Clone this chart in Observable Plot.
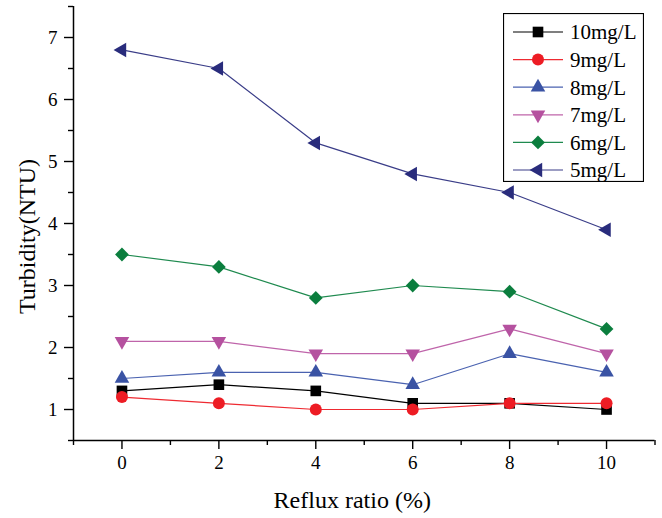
<!DOCTYPE html>
<html><head><meta charset="utf-8">
<script src="https://cdn.jsdelivr.net/npm/d3@7"></script>
<script src="https://cdn.jsdelivr.net/npm/@observablehq/plot@0.6"></script>
<style>
body{margin:0;background:#fff;}
#wrap{position:relative;width:662px;height:518px;font-family:Liberation Serif, serif;}
#legend{position:absolute;left:503px;top:13px;}
</style></head><body><div id="wrap"></div>
<script>
const refluxRatio = [0, 2, 4, 6, 8, 10];
const seriesNames = ["10mg/L", "9mg/L", "8mg/L", "7mg/L", "6mg/L", "5mg/L"];
const turb10 = [1.3, 1.4, 1.3, 1.1, 1.1, 1.0];
const turb9  = [1.2, 1.1, 1.0, 1.0, 1.1, 1.1];
const turb8  = [1.5, 1.6, 1.6, 1.4, 1.9, 1.6];
const turb7  = [2.1, 2.1, 1.9, 1.9, 2.3, 1.9];
const turb6  = [3.5, 3.3, 2.8, 3.0, 2.9, 2.3];
const turb5  = [6.8, 6.5, 5.3, 4.8, 4.5, 3.9];
const xMajorTicks = [0, 2, 4, 6, 8, 10];
const xMinorTicks = [-1, 1, 3, 5, 7, 9, 11];
const yMajorTicks = [1, 2, 3, 4, 5, 6, 7];
const yMinorTicks = [0.5, 1.5, 2.5, 3.5, 4.5, 5.5, 6.5, 7.5];
const xTitle = "Reflux ratio (%)";
const yTitle = "Turbidity(NTU)";

const seriesValues = [turb10, turb9, turb8, turb7, turb6, turb5];
const FONT = "Liberation Serif";

const sqrt3 = Math.sqrt(3);
const triDown = {draw(c, size){ const y = -Math.sqrt(size/(sqrt3*3)); c.moveTo(0, -2*y); c.lineTo(-sqrt3*y, y); c.lineTo(sqrt3*y, y); c.closePath(); }};
const triLeft = {draw(c, size){ const y = -Math.sqrt(size/(sqrt3*3)); c.moveTo(2*y, 0); c.lineTo(-y, -sqrt3*y); c.lineTo(-y, sqrt3*y); c.closePath(); }};

const styles = [
  {symbol: d3.symbolSquare,   r: 6.0, fill: "#000000", line: "#000000"},
  {symbol: d3.symbolCircle,   r: 6.0, fill: "#ed1c24", line: "#ee2a31"},
  {symbol: d3.symbolTriangle, r: 5.4, fill: "#3a53a4", line: "#4a62b0"},
  {symbol: triDown,           r: 5.4, fill: "#b5519f", line: "#bf64aa"},
  {symbol: d3.symbolDiamond2, r: 6.2, fill: "#0b7e3e", line: "#1f8a4f"},
  {symbol: triLeft,           r: 5.4, fill: "#292c7c", line: "#3a3d88"}
];

const table = [];
seriesNames.forEach((name, i) => refluxRatio.forEach((x, j) => table.push({series: name, x, y: seriesValues[i][j]})));

const axisStyle = {stroke: "#000", strokeWidth: 1.4};
const marks = [
  Plot.ruleY([0.5], {stroke: "#000", strokeWidth: 1.5}),
  Plot.ruleX([-1], {stroke: "#000", strokeWidth: 1.5}),
  Plot.axisX({ticks: xMajorTicks, tickSize: 9, tickPadding: 6, fontSize: 19, label: null, tickFormat: d => String(d), ...axisStyle}),
  Plot.axisX({ticks: xMinorTicks, tickSize: 5, tickFormat: () => "", label: null, ...axisStyle}),
  Plot.axisY({ticks: yMajorTicks, tickSize: 9, tickPadding: 7, fontSize: 19, label: null, tickFormat: d => String(d), ...axisStyle}),
  Plot.axisY({ticks: yMinorTicks, tickSize: 5, tickFormat: () => "", label: null, ...axisStyle}),
  Plot.text([xTitle], {text: d => d, frameAnchor: "bottom", textAnchor: "middle", dx: -12, dy: 60, fontSize: 24, fill: "#000", lineAnchor: "middle"}),
  Plot.text([yTitle], {text: d => d, frameAnchor: "left", textAnchor: "middle", rotate: -90, dx: -46, dy: 13, fontSize: 24, fill: "#000", lineAnchor: "middle"})
];
seriesNames.forEach((name, i) => {
  const rows = table.filter(d => d.series === name);
  const s = styles[i];
  marks.push(Plot.line(rows, {x: "x", y: "y", stroke: s.line, strokeWidth: 1.2}));
});
seriesNames.forEach((name, i) => {
  const rows = table.filter(d => d.series === name);
  const s = styles[i];
  marks.push(Plot.dot(rows, {x: "x", y: "y", symbol: s.symbol, r: s.r, fill: s.fill, stroke: "none"}));
});

const chart = Plot.plot({
  width: 662, height: 518,
  marginLeft: 73, marginRight: 7.5, marginTop: 6, marginBottom: 78,
  x: {domain: [-1, 11]},
  y: {domain: [0.5, 7.5]},
  style: {color: "#000", background: "#fff"},
  marks
});
const wrap = document.getElementById("wrap");
wrap.appendChild(chart);
d3.select(chart).attr("font-family", FONT).style("font-family", null);
d3.select(chart).selectAll("g, text").attr("font-family", FONT);

// legend
const lw = 141, lh = 169;
const leg = d3.select(wrap).append("svg").attr("id", "legend").attr("width", lw).attr("height", lh).attr("font-family", FONT);
leg.append("rect").attr("x", 0.5).attr("y", 0.5).attr("width", lw - 1).attr("height", lh - 1).attr("fill", "#fff").attr("stroke", "#000").attr("stroke-width", 1.2);
seriesNames.forEach((name, i) => {
  const s = styles[i];
  const cy = 19 + i * 27.6;
  const g = leg.append("g").attr("transform", `translate(0,${cy})`);
  g.append("line").attr("x1", 10).attr("x2", 60).attr("y1", 0).attr("y2", 0).attr("stroke", s.line).attr("stroke-width", 1.2);
  g.append("path").attr("transform", "translate(35,0)").attr("d", d3.symbol().type(s.symbol).size(Math.PI * s.r * s.r)()).attr("fill", s.fill);
  g.append("text").attr("x", 67).attr("y", 0).attr("dy", "0.35em").attr("font-size", 21).attr("font-family", FONT).attr("fill", "#000").text(name);
});
</script></body></html>
